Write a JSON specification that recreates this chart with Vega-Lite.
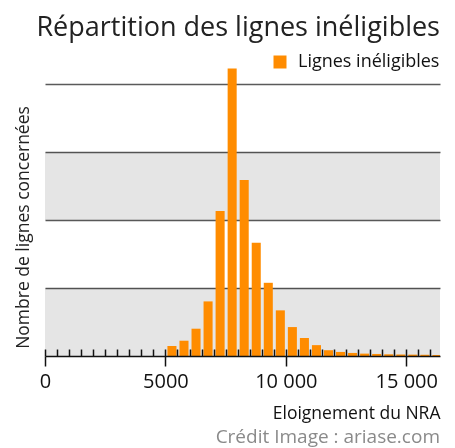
{
  "$schema": "https://vega.github.io/schema/vega-lite/v6.json",
  "background": "white",
  "padding": {"left": 14, "top": 14, "right": 8, "bottom": 0},
  "config": {"view": {"stroke": null}, "concat": {"spacing": 0}, "font": "Open Sans"},
  "title": {"text": "Répartition des lignes inéligibles", "anchor": "end", "fontSize": 27, "fontWeight": "normal", "color": "#222222", "font": "Open Sans", "offset": 11},
  "vconcat": [
    {
      "width": 395,
      "height": 292,
      "title": {"text": "Crédit Image : ariase.com", "orient": "bottom", "anchor": "end", "color": "#8a8a8a", "fontSize": 19, "fontWeight": "normal", "offset": 6},
      "resolve": {"axis": {"x": "independent"}},
      "layer": [
        {
          "data": {"values": [{"lo": 0, "hi": 1000}, {"lo": 2000, "hi": 3000}]},
          "mark": {"type": "rect", "color": "#e5e5e5", "blend": "multiply"},
          "encoding": {
            "y": {"field": "lo", "type": "quantitative", "scale": {"domain": [0, 4300], "nice": false},
              "axis": {"values": [1000, 2000, 3000, 4000], "grid": true, "gridColor": "#5a5a5a", "gridWidth": 1.5, "ticks": false, "labels": false, "domain": false,
                "title": "Nombre de lignes concernées", "titleFontSize": 17.5, "titleFontWeight": "normal", "titleColor": "#222222", "titlePadding": 13, "titleY": 163}},
            "y2": {"field": "hi"}
          }
        },
        {
          "data": {"values": [
            {"start": 5000, "end": 5500, "count": 147},
            {"start": 5500, "end": 6000, "count": 225},
            {"start": 6000, "end": 6500, "count": 402},
            {"start": 6500, "end": 7000, "count": 804},
            {"start": 7000, "end": 7500, "count": 2137},
            {"start": 7500, "end": 8000, "count": 4235},
            {"start": 8000, "end": 8500, "count": 2593},
            {"start": 8500, "end": 9000, "count": 1667},
            {"start": 9000, "end": 9500, "count": 1078},
            {"start": 9500, "end": 10000, "count": 672},
            {"start": 10000, "end": 10500, "count": 426},
            {"start": 10500, "end": 11000, "count": 265},
            {"start": 11000, "end": 11500, "count": 160},
            {"start": 11500, "end": 12000, "count": 85},
            {"start": 12000, "end": 12500, "count": 60},
            {"start": 12500, "end": 13000, "count": 45},
            {"start": 13000, "end": 13500, "count": 35},
            {"start": 13500, "end": 14000, "count": 30},
            {"start": 14000, "end": 14500, "count": 25},
            {"start": 14500, "end": 15000, "count": 22},
            {"start": 15000, "end": 15500, "count": 20},
            {"start": 15500, "end": 16000, "count": 18},
            {"start": 16000, "end": 16500, "count": 15}
          ]},
          "mark": {"type": "bar", "binSpacing": 3, "clip": true, "blend": "multiply"},
          "encoding": {
            "x": {"field": "start", "bin": "binned", "type": "quantitative", "scale": {"domain": [0, 16400], "nice": false},
              "axis": {"values": [0,500,1000,1500,2000,2500,3000,3500,4000,4500,5000,5500,6000,6500,7000,7500,8000,8500,9000,9500,10000,10500,11000,11500,12000,12500,13000,13500,14000,14500,15000,15500,16000],
                "orient": "bottom", "grid": false, "domainColor": "#111111", "domainWidth": 1.5, "tickColor": "#111111", "tickWidth": 1.5, "tickSize": -7,
                "labels": false, "title": null, "zindex": 1}},
            "x2": {"field": "end"},
            "y": {"field": "count", "type": "quantitative", "scale": {"domain": [0, 4300], "nice": false}},
            "color": {"datum": "Lignes inéligibles", "scale": {"range": ["#ff8c00"]},
              "legend": {"title": null, "orient": "none", "legendX": 226, "legendY": -11, "symbolType": "square", "symbolSize": 169, "symbolStrokeWidth": 0, "symbolOpacity": 1, "labelFontSize": 18, "labelOffset": 9, "labelColor": "#111111", "labelFont": "Open Sans"}}
          }
        },
        {
          "data": {"values": []},
          "mark": {"type": "rule"},
          "encoding": {
            "x": {"field": "start", "type": "quantitative",
              "axis": {"values": [0, 5000, 10000, 15000], "orient": "bottom", "grid": false, "domain": false, "tickColor": "#111111", "tickWidth": 1.5, "tickSize": 10,
                "labelExpr": "datum.value >= 10000 ? replace(format(datum.value, ','), ',', '\u00a0') : format(datum.value, 'd')",
                "labelOverlap": false, "labelFlush": false, "labelFontSize": 20, "labelColor": "#111111", "labelPadding": 5,
                "title": "Eloignement du NRA", "titleAnchor": "end", "titleFontSize": 17.5, "titleFontWeight": "normal", "titleColor": "#111111", "titlePadding": 13}}
          }
        }
      ]
    }
  ]
}
